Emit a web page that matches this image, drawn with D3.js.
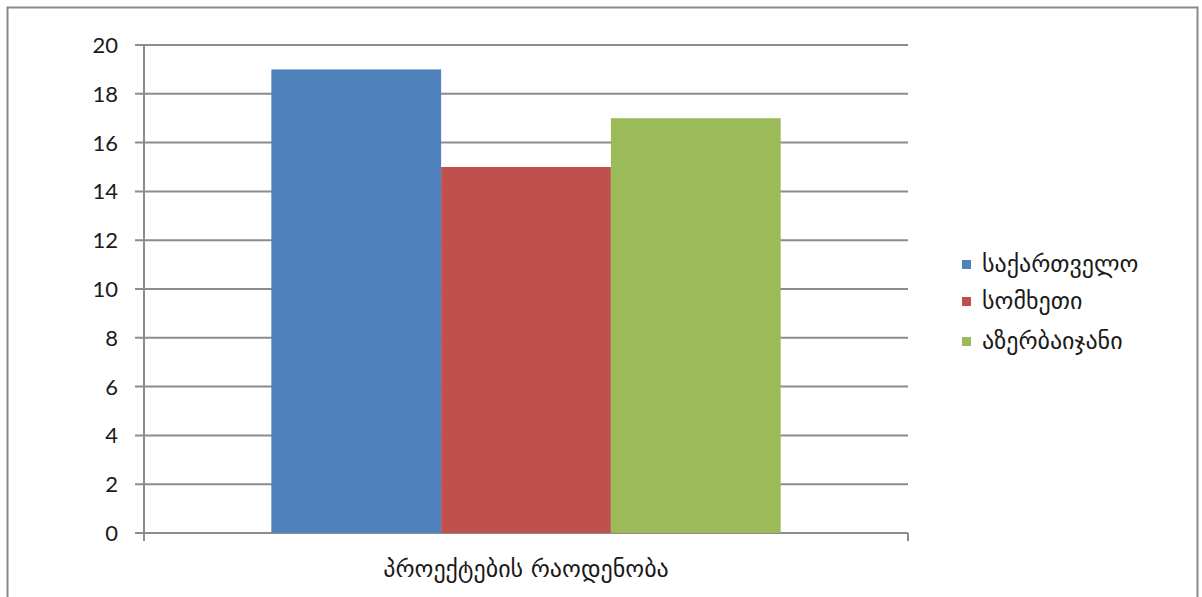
<!DOCTYPE html>
<html><head><meta charset="utf-8">
<script src="https://cdn.jsdelivr.net/npm/d3@7"></script>
<style>
html,body{margin:0;padding:0;background:#fff;}
svg{display:block;}
</style></head>
<body>
<svg id="c" width="1202" height="597"></svg>
<script>
const categories = ["პროექტების რაოდენობა"];
const seriesNames = ["საქართველო", "სომხეთი", "აზერბაიჯანი"];
const seriesValues = [19, 15, 17];
const seriesColors = ["#4F81BD", "#C0504D", "#9BBB59"];
const yTicks = [0, 2, 4, 6, 8, 10, 12, 14, 16, 18, 20];

(function () {
const svg = d3.select("#c");
const geoFont = "'DejaVu Sans', sans-serif";
const numFont = "Lato, 'Open Sans', sans-serif";

svg.append("rect").attr("x", 7.5).attr("y", 7.5).attr("width", 1190).attr("height", 600)
  .attr("fill", "#fff").attr("stroke", "#8a8a8a").attr("stroke-width", 2);

const pL = 144, pR = 908, pT = 45, pB = 533;
const y = d3.scaleLinear().domain([0, 20]).range([pB, pT]);
const x0 = d3.scaleBand().domain(categories).range([pL, pR]).paddingInner(0).paddingOuter(0);
const groupW = x0.bandwidth() * 3 / 4.5;
const x1 = d3.scaleBand().domain(seriesNames).range([0, groupW]).padding(0);

const gridColor = "#8c8c8c";
svg.append("g").selectAll("line").data(yTicks).join("line")
  .attr("x1", pL - 9).attr("x2", pR)
  .attr("y1", d => y(d)).attr("y2", d => y(d))
  .attr("stroke", gridColor).attr("stroke-width", 2);

const g = svg.append("g");
categories.forEach(cat => {
  const gx = x0(cat) + (x0.bandwidth() - groupW) / 2;
  g.selectAll("rect.b").data(seriesValues).join("rect")
    .attr("x", (d, i) => gx + x1(seriesNames[i]))
    .attr("width", x1.bandwidth())
    .attr("y", d => y(d))
    .attr("height", d => y(0) - y(d))
    .attr("fill", (d, i) => seriesColors[i]);
});

svg.append("line").attr("x1", pL).attr("x2", pL).attr("y1", pT).attr("y2", pB + 8)
  .attr("stroke", gridColor).attr("stroke-width", 2);
svg.append("line").attr("x1", pR).attr("x2", pR).attr("y1", pB).attr("y2", pB + 8)
  .attr("stroke", gridColor).attr("stroke-width", 2);

svg.append("g").selectAll("text").data(yTicks).join("text")
  .attr("x", 118).attr("y", d => y(d)).attr("dy", "0.36em")
  .attr("text-anchor", "end").attr("font-family", numFont).attr("font-size", 22)
  .attr("fill", "#1a1a1a").text(d => d);

svg.append("g").selectAll("text").data(categories).join("text")
  .attr("x", d => x0(d) + x0.bandwidth() / 2).attr("y", 577)
  .attr("text-anchor", "middle").attr("font-family", geoFont).attr("font-size", 24)
  .attr("fill", "#1a1a1a").text(d => d);

const legY = [264, 301, 341];
const leg = svg.append("g").selectAll("g").data(seriesNames).join("g")
  .attr("transform", (d, i) => `translate(962, ${legY[i]})`);
leg.append("rect").attr("x", 0).attr("y", -4).attr("width", 9).attr("height", 9)
  .attr("fill", (d, i) => seriesColors[i]);
leg.append("text").attr("x", 20).attr("y", 0).attr("dy", "0.32em")
  .attr("font-family", geoFont).attr("font-size", 24).attr("fill", "#1a1a1a").text(d => d);
})();
</script>
</body></html>
